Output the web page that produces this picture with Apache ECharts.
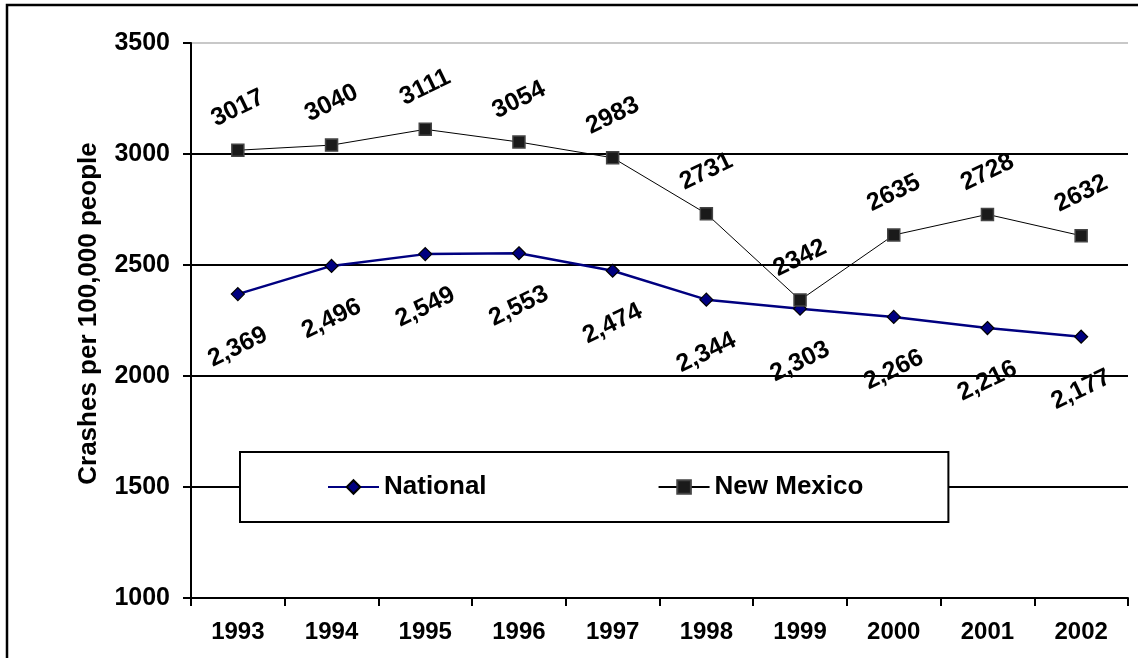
<!DOCTYPE html>
<html>
<head>
<meta charset="utf-8">
<script src="https://cdn.jsdelivr.net/npm/echarts@6/dist/echarts.min.js"></script>
<style>
html,body{margin:0;padding:0;background:#fff;}
#chart{width:1138px;height:658px;}
</style>
</head>
<body>
<div id="chart"></div>
<script>
const years = ['1993','1994','1995','1996','1997','1998','1999','2000','2001','2002'];
const national = [2369, 2496, 2549, 2553, 2474, 2344, 2303, 2266, 2216, 2177];
const newMexico = [3017, 3040, 3111, 3054, 2983, 2731, 2342, 2635, 2728, 2632];
const yTicks = { min: 1000, max: 3500, interval: 500 };
const yTitle = 'Crashes per 100,000 people';

const FONT = 'Arial, "Liberation Sans", sans-serif';
// label rotation and offset compensation (offset is rotated with the label around the point)
const ROT = 26;
const rad = ROT * Math.PI / 180;
function rotOffset(dy) {
  return [-dy * Math.sin(rad), dy * Math.cos(rad)];
}
const chart = echarts.init(document.getElementById('chart'));
chart.setOption({
  animation: false,
  backgroundColor: '#fff',
  graphic: [{
    type: 'rect', z: 100, silent: true,
    shape: { x: 7, y: 5, width: 1200, height: 700 },
    style: { fill: 'none', stroke: '#000', lineWidth: 2.5 }
  }],
  grid: { left: 191, right: 10, top: 43, bottom: 60, containLabel: false },
  legend: {
    left: 240, top: 452,
    orient: 'horizontal',
    padding: [22, 85, 22, 87],
    itemGap: 171,
    itemWidth: 51, itemHeight: 17,
    backgroundColor: '#fff',
    borderColor: '#000', borderWidth: 2,
    textStyle: { fontFamily: FONT, fontWeight: 'bold', fontSize: 26, color: '#000' },
    data: ['National', 'New Mexico']
  },
  xAxis: {
    type: 'category',
    data: years,
    boundaryGap: true,
    axisLine: { lineStyle: { color: '#000', width: 2 } },
    axisTick: { show: true, interval: 0, length: 8, lineStyle: { color: '#000', width: 2 } },
    axisLabel: { fontFamily: FONT, fontWeight: 'bold', fontSize: 24, color: '#000', margin: 22, interval: 0 },
    splitLine: { show: false }
  },
  yAxis: {
    type: 'value',
    min: yTicks.min, max: yTicks.max, interval: yTicks.interval,
    name: yTitle,
    nameLocation: 'middle',
    nameRotate: 90,
    nameGap: 89,
    nameTextStyle: { fontFamily: FONT, fontWeight: 'bold', fontSize: 26, color: '#000', padding: [0, 0, 0, 14] },
    axisLine: { show: true, lineStyle: { color: '#000', width: 2 } },
    axisTick: { show: true, length: 8, lineStyle: { color: '#000', width: 2 } },
    axisLabel: { fontFamily: FONT, fontWeight: 'bold', fontSize: 25, color: '#000', margin: 21, formatter: v => String(v) },
    splitLine: { show: true, lineStyle: { color: ['#000', '#000', '#000', '#000', '#000', '#c8c8c8'], width: 2 } }
  },
  series: [
    {
      name: 'National',
      type: 'line',
      data: national,
      symbol: 'diamond',
      symbolSize: 13,
      itemStyle: { color: '#000080', borderColor: '#000', borderWidth: 1.2 },
      lineStyle: { color: '#000080', width: 2.5 },
      z: 3,
      label: {
        show: true, position: 'inside', rotate: ROT, offset: rotOffset(53),
        formatter: p => p.value.toLocaleString('en-US'),
        fontFamily: FONT, fontWeight: 'bold', fontSize: 25, color: '#000'
      }
    },
    {
      name: 'New Mexico',
      type: 'line',
      data: newMexico,
      symbol: 'rect',
      symbolSize: 12,
      itemStyle: { color: '#1a1a1a', borderColor: '#444', borderWidth: 1.5 },
      lineStyle: { color: '#000', width: 1 },
      z: 4,
      label: {
        show: true, position: 'inside', rotate: ROT, offset: rotOffset(-42),
        formatter: p => String(p.value),
        fontFamily: FONT, fontWeight: 'bold', fontSize: 25, color: '#000'
      }
    }
  ]
});
</script>
</body>
</html>
